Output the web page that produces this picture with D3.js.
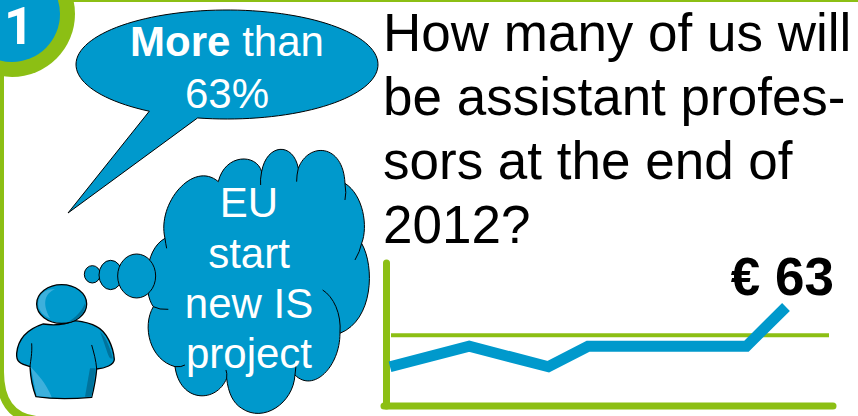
<!DOCTYPE html>
<html><head><meta charset="utf-8">
<script src="https://cdn.jsdelivr.net/npm/d3@7/dist/d3.min.js"></script>
<style>html,body{margin:0;padding:0;background:#fff;overflow:hidden}svg{display:block}text{font-family:"Liberation Sans",Arial,sans-serif}</style>
</head><body><svg id="c" width="858" height="416"></svg>
<script>
const months=[0,2,4,5,9,10];
const prices=[25,38,25,38,38,63];
const referenceLevel=[45];
const priceLabel="€ 63";
const titleLines=["How many of us will","be assistant profes-","sors at the end of","2012?"];
const speechLines=[[["More",true],[" than",false]],[["63%",false]]];
const thoughtLines=["EU","start","new IS","project"];
const badge="1";
const BLUE="#0099cc",GREEN="#8cbf14";
const svg=d3.select("#c");
// frame
svg.append("path").attr("d","M60,0 H858").attr("stroke",GREEN).attr("stroke-width",4).attr("fill","none");
svg.append("path").attr("d","M0,60 V372 Q0,416 36,420").attr("stroke",GREEN).attr("stroke-width",8).attr("fill","none");
svg.append("circle").attr("cx",12).attr("cy",14).attr("r",63).attr("fill",GREEN);
svg.append("circle").attr("cx",12).attr("cy",14).attr("r",48).attr("fill",BLUE);
svg.append("text").text(badge).attr("x",19).attr("y",44).attr("text-anchor","middle").attr("font-size",52).attr("font-weight","bold").attr("fill","#fff").style("font-family","Roboto");
// speech bubble
const cx=227,cy=64.5,rx=151,ry=54.5;
const a1=Math.atan2((119-cy)/ry,(197-cx)/rx),a2=Math.atan2((112-cy)/ry,(148-cx)/rx);
const arcPts=[];
for(let i=0;i<=120;i++){const a=a1-(i/120)*(2*Math.PI-(a2-a1));arcPts.push([cx+rx*Math.cos(a),cy+ry*Math.sin(a)]);}
svg.append("path").attr("d",d3.line()(arcPts.concat([[68,213]]))+"Z").attr("fill",BLUE).attr("stroke","#000").attr("stroke-width",1);
speechLines.forEach((ln,i)=>{const t=svg.append("text").attr("x",227).attr("y",56+i*52).attr("text-anchor","middle").attr("font-size",42).attr("fill","#fff");
 ln.forEach(s=>t.append("tspan").text(s[0]).attr("font-weight",s[1]?"bold":"normal").style("white-space","pre"));});
// thought cloud & person, in zoom-derived units
const g=svg.append("g").attr("transform","translate(0,140) scale(0.3333)");
const cloud="M655,125 C675,40 770,40 785,95 C800,10 880,5 895,85 C925,5 1030,10 1035,130 C1090,165 1105,260 1085,310 C1125,380 1120,540 1020,580 C1020,680 940,760 885,705 C880,790 790,850 725,805 C700,790 685,760 680,715 C650,790 540,790 525,680 C450,660 425,560 460,500 C430,460 430,330 495,295 C470,190 580,60 655,125Z";
g.append("path").attr("d",cloud).attr("fill",BLUE).attr("stroke","#000").attr("stroke-width",3);
[ "M1035,130 Q1040,160 1035,180","M785,95 Q780,120 782,135","M895,85 Q890,105 890,125","M1085,310 Q1080,335 1065,360","M1020,580 C1025,520 1000,470 968,450","M885,705 Q890,680 885,665","M680,715 Q682,700 678,690","M525,680 Q545,682 555,675","M460,500 Q478,510 505,508","M495,295 Q497,310 500,325"].forEach(d=>g.append("path").attr("d",d).attr("fill","none").attr("stroke","#000").attr("stroke-width",3));
[[277,403,24,26],[332,405,35,44],[410,408,57,66]].forEach(c=>g.append("ellipse").attr("cx",c[0]).attr("cy",c[1]).attr("rx",c[2]).attr("ry",c[3]).attr("fill",BLUE).attr("stroke","#000").attr("stroke-width",3));
// person
g.append("path").attr("d","M130,552 C90,565 55,590 50,640 C48,665 60,672 90,680 C92,720 100,750 108,770 C160,778 230,776 275,772 C282,745 288,715 290,687 C315,685 343,675 343,658 C340,620 320,575 290,560 C270,548 250,545 225,542 Q180,560 130,552Z").attr("fill",BLUE).attr("stroke","#000").attr("stroke-width",4);
g.append("path").attr("d","M300,575 C320,590 335,640 338,655 C325,660 325,640 300,575Z").attr("fill","#00739c");
g.append("path").attr("d","M270,685 L287,685 L275,770 L255,770Z").attr("fill","#00739c");
g.append("path").attr("d","M92,680 C110,700 140,730 155,772 L110,768 Z").attr("fill","#3db0dc");
g.append("path").attr("d","M95,610 C97,640 92,660 90,680").attr("fill","none").attr("stroke","#000").attr("stroke-width",3);
g.append("path").attr("d","M275,615 C282,640 288,660 290,687").attr("fill","none").attr("stroke","#000").attr("stroke-width",3);
g.append("ellipse").attr("cx",185).attr("cy",492).attr("rx",75).attr("ry",58).attr("fill",BLUE).attr("stroke","#000").attr("stroke-width",4);
g.append("path").attr("d","M165,448 C135,460 125,490 150,535 C125,525 112,505 115,485 C118,460 140,445 165,448Z").attr("fill","#3db0dc");
g.append("path").attr("d","M255,490 C245,515 225,535 205,545 C235,545 258,515 255,490Z").attr("fill","#00739c");
thoughtLines.forEach((t,i)=>svg.append("text").text(t).attr("x",249).attr("y",[217,268,318,368][i]).attr("text-anchor","middle").attr("font-size",42).attr("fill","#fff"));
// title
titleLines.forEach((t,i)=>svg.append("text").text(t).attr("x",383).attr("y",50.5+i*64).attr("font-size",53).attr("fill","#000"));
// chart
const x=d3.scaleLinear().domain([0,10]).range([390,786]);
const y=d3.scaleLinear().domain([0,63]).range([406,307]);
svg.append("line").attr("x1",391).attr("x2",829).attr("y1",y(referenceLevel[0])).attr("y2",y(referenceLevel[0])).attr("stroke",GREEN).attr("stroke-width",4);
svg.append("line").attr("x1",386.5).attr("x2",386.5).attr("y1",263).attr("y2",406).attr("stroke",GREEN).attr("stroke-width",7).attr("stroke-linecap","round");
svg.append("line").attr("x1",384).attr("x2",833).attr("y1",406).attr("y2",406).attr("stroke",GREEN).attr("stroke-width",7).attr("stroke-linecap","round");
svg.append("path").datum(months.map((m,i)=>[m,prices[i]])).attr("d",d3.line().x(d=>x(d[0])).y(d=>y(d[1]))).attr("fill","none").attr("stroke",BLUE).attr("stroke-width",11);
svg.append("text").text(priceLabel).attr("x",834).attr("y",295).attr("text-anchor","end").attr("font-size",53).attr("font-weight","bold").attr("fill","#000");
</script></body></html>
